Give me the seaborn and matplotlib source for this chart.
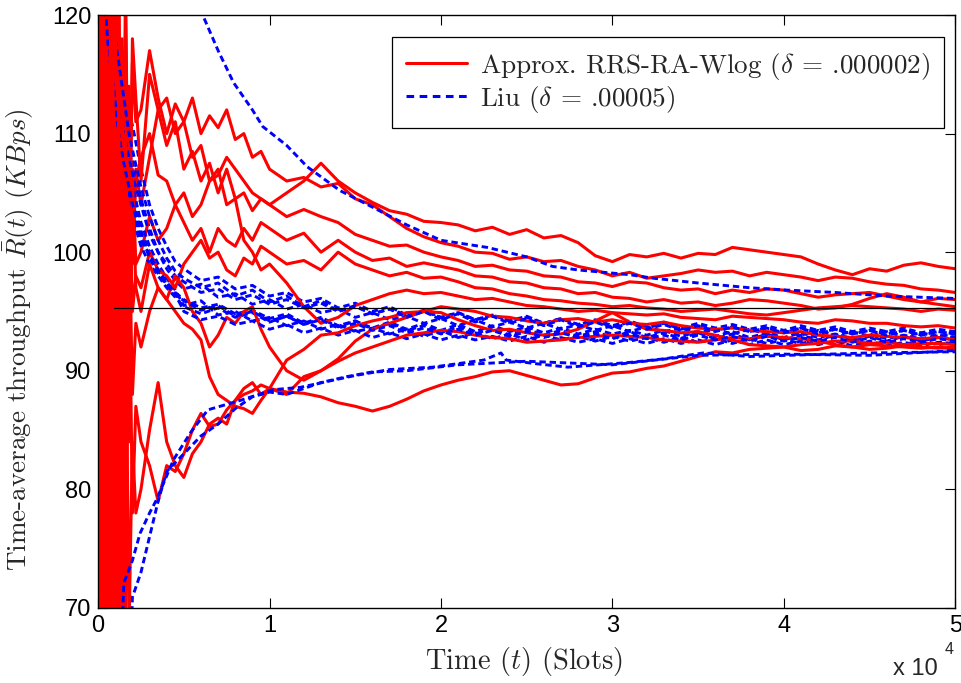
import numpy as np
import pandas as pd
import matplotlib
matplotlib.use("Agg")
import matplotlib.pyplot as plt
from matplotlib.lines import Line2D
import seaborn as sns

# ---------------- data (time in units of 1e4 slots) ----------------
XR = [0, .01, .02, .03, .04, .05, .06, .08, .10, .12, .14, .16, .18, .20, .22,
      .25, .30, .35, .40, .45, .50, .55, .60, .65, .70, .75, .80, .85, .90, .95, 1.0,
      1.1, 1.2, 1.3, 1.4, 1.5, 1.6, 1.7, 1.8, 1.9, 2.0,
      2.1, 2.2, 2.3, 2.4, 2.5, 2.6, 2.7, 2.8, 2.9, 3.0, 3.1, 3.2, 3.3, 3.4, 3.5,
      3.6, 3.7, 3.8, 3.9, 4.0, 4.1, 4.2, 4.3, 4.4, 4.5, 4.6, 4.7, 4.8, 4.9, 5.0]

R1 = [150, 60, 135, 70, 128, 62, 122, 78, 126, 84, 117, 92, 113, 99, 107,
      104, 108, 112, 109, 111, 107, 108.5, 106, 107.5, 105, 107, 104.5, 105, 103.5, 104.5, 104,
      105, 106, 107.5, 106, 105, 104.2, 103.5, 103.2, 102.6, 102.5,
      102.3, 101.8, 102.1, 101.5, 101.9, 101.2, 101.4, 100.8, 99.7, 99.2, 99.8, 99.6, 99.9, 99.5, 99.9,
      99.8, 100.4, 100.2, 100.0, 99.8, 99.6, 99.0, 98.5, 98.1, 98.6, 98.4, 98.9, 99.1, 98.8, 98.6]
R2 = [55, 145, 65, 138, 72, 125, 60, 118, 88, 121, 95, 119, 100, 116, 111,
      112, 117, 113, 110, 112.5, 111, 113, 110, 111.5, 110.5, 112, 109.5, 110, 108, 108.5, 107,
      106, 106.3, 105.5, 105.8, 104.5, 104, 103, 102, 101.3, 100.8,
      100.5, 100.0, 99.9, 99.4, 99.6, 99.2, 99.3, 98.8, 98.5, 98.0, 98.3, 97.8, 98.0, 98.2, 98.5,
      98.3, 98.4, 98.0, 98.3, 98.1, 97.9, 97.6, 97.9, 97.8, 97.5, 97.3, 97.2, 96.9, 96.8, 96.6]
R3 = [130, 58, 140, 66, 119, 73, 136, 70, 124, 83, 118, 90, 114, 100, 106,
      108, 110, 106.5, 106, 104, 105, 103, 104, 106, 106.5, 108, 107, 106, 105, 104.5, 104,
      103, 103.6, 103, 102.5, 101.5, 101, 100.5, 100.6, 100, 99.6,
      99.3, 98.8, 98.9, 98.5, 98.4, 98.0, 97.9, 97.5, 97.4, 97.1, 97.5, 97.4, 97.0, 96.8, 96.9,
      96.5, 96.8, 96.6, 96.9, 96.8, 96.5, 96.2, 96.4, 96.5, 96.6, 96.3, 96.0, 95.8, 96.1, 96.0]
R4 = [65, 150, 58, 127, 69, 140, 77, 121, 74, 117, 80, 111, 84, 107, 99,
      100, 103, 101, 102, 104, 102.5, 101, 102, 100, 102, 101, 100.5, 102, 101, 102.5, 102,
      101, 101.6, 100, 101, 100, 99.3, 99.5, 98.8, 99.1, 98.8,
      98.5, 98.0, 97.9, 97.5, 97.4, 97.0, 96.9, 96.5, 96.6, 96.2, 96.1, 95.8, 96.0, 95.7, 95.8,
      95.5, 95.7, 96.0, 95.9, 95.7, 95.5, 95.2, 95.3, 95.6, 96.1, 96.5, 96.2, 95.8, 95.6, 95.4]
R5 = [142, 52, 126, 75, 138, 67, 119, 71, 121, 79, 114, 83, 108, 95, 98,
      97, 100, 98.5, 98, 97, 99, 100, 101, 99.5, 100, 98.5, 98, 99.5, 99, 100.5, 100,
      99, 99.3, 98.5, 100, 99, 98.5, 98, 98.3, 97.8, 97.9,
      97.5, 97.0, 96.9, 96.5, 96.3, 96.0, 95.9, 95.7, 95.6, 95.4, 95.5, 95.3, 95.2, 95.0, 95.1,
      95.2, 95.0, 94.8, 94.7, 94.9, 95.1, 95.3, 95.4, 95.5, 95.4, 95.3, 95.2, 95.0, 95.2, 95.1]
R6 = [60, 132, 72, 146, 61, 120, 70, 137, 80, 126, 86, 124, 92, 118, 113,
      106, 115, 112, 113, 110, 111, 108, 109, 106, 107, 104, 104.5, 101, 100, 98.5, 99,
      97.4, 95.4, 94, 94.5, 95.5, 96, 96.5, 96.8, 96.5, 96.6,
      96.3, 96.0, 96.1, 95.8, 95.5, 95.4, 95.2, 95.0, 95.1, 94.9, 94.8, 94.7, 94.8, 94.5, 94.4,
      94.3, 94.6, 94.5, 94.4, 94.3, 94.1, 94.0, 94.3, 94.2, 94.0, 94.0, 93.8, 93.7, 93.8, 93.6]
R7 = [125, 63, 147, 57, 133, 79, 124, 69, 120, 64, 117, 70, 103, 88, 94,
      92, 95, 97, 96, 98, 97, 95, 94, 92, 93, 94.5, 94, 95, 95.4, 93.5, 92,
      90, 89.2, 90, 91, 92.5, 93.5, 94, 94.5, 95, 95.4,
      95.2, 95.0, 94.6, 94.5, 94.2, 94.0, 94.3, 94.4, 94.1, 94.3, 94.0, 93.9, 94.1, 93.8, 93.6,
      93.5, 93.6, 93.4, 93.3, 93.2, 93.3, 93.0, 92.9, 92.8, 93.0, 92.9, 92.8, 92.7, 92.8, 92.6]
R8 = [70, 137, 62, 121, 76, 143, 65, 126, 71, 117, 85, 110, 90, 106, 97,
      95, 99, 97, 96, 95, 94, 93.5, 92.6, 89.5, 88, 87.5, 87, 86.8, 86.4, 87.5, 88.5,
      90.9, 91.8, 93, 93.2, 93.8, 94.2, 94.5, 94.9, 95.0, 94.9,
      94.3, 93.8, 93.4, 93.5, 93.2, 93.0, 93.1, 93.5, 94.2, 94.9, 94.1, 93.5, 93.4, 93.2, 93.3,
      93.0, 92.6, 92.2, 92.1, 92.0, 92.2, 92.3, 92.5, 92.5, 92.3, 92.4, 92.2, 92.3, 92.3, 92.2]
R9 = [138, 66, 120, 52, 131, 71, 142, 60, 123, 68, 109, 74, 101, 78, 87,
      84, 82, 79, 82, 81.5, 83, 85, 86.4, 85.3, 85.5, 86.7, 87.5, 88, 88.3, 88.8, 88.5,
      88, 89.5, 90, 90.8, 91.5, 92, 92.5, 93, 93.2, 93.4,
      93.3, 93.0, 92.8, 92.7, 92.4, 92.5, 92.6, 92.8, 92.9, 93.0, 92.9, 92.8, 92.6, 92.5, 92.4,
      92.6, 92.8, 92.7, 92.9, 92.8, 92.7, 92.5, 92.2, 92.0, 92.2, 92.1, 92.0, 91.9, 92.0, 91.8]
R10 = [58, 129, 74, 134, 64, 117, 82, 140, 67, 112, 62, 98, 68, 84, 78,
       80, 85, 89, 84, 82, 81, 83, 84, 85.5, 86, 85.5, 87.5, 88.5, 89, 88, 88.5,
       88.2, 88.1, 87.8, 87.3, 87, 86.6, 87.0, 87.6, 88.3, 88.8,
       89.2, 89.5, 89.9, 90.0, 89.6, 89.2, 88.8, 88.9, 89.4, 89.8, 89.9, 90.2, 90.4, 90.8, 91.2,
       91.6, 91.5, 91.8, 91.9, 92.0, 91.7, 91.8, 92.1, 92.0, 91.8, 91.9, 92.1, 92.0, 91.9, 92.0]
RED_LINES = [R1, R2, R3, R4, R5, R6, R7, R8, R9, R10]

XB = [0, .03, .06, .09, .12, .15, .18, .21, .25, .3, .35, .4, .45,
      .5, .6, .7, .8, .9, 1.0, 1.1, 1.2, 1.3, 1.4, 1.5, 1.6, 1.7, 1.8, 1.9, 2.0,
      2.1, 2.2, 2.3, 2.4, 2.5, 2.6, 2.7, 2.8, 2.9, 3.0, 3.1, 3.2, 3.3, 3.4, 3.5,
      3.6, 3.7, 3.8, 3.9, 4.0, 4.1, 4.2, 4.3, 4.4, 4.5, 4.6, 4.7, 4.8, 4.9, 5.0]
B1 = [150, 136, 126, 121, 118, 115, 112, 110, 107, 104, 102, 100.5, 99.2,
      98.6, 97.6, 97.9, 96.9, 97.2, 96.3, 96.6, 95.8, 96.1, 95.3, 95.7, 95.0, 95.4, 94.7, 95.1, 94.5,
      94.9, 94.3, 94.7, 94.2, 94.6, 94.0, 94.4, 93.9, 94.3, 93.8, 94.2, 93.7, 94.1, 93.6, 94.0,
      93.6, 93.9, 93.5, 93.8, 93.4, 93.8, 93.4, 93.7, 93.3, 93.6, 93.3, 93.6, 93.2, 93.5, 93.3]
B2 = [142, 130, 122, 118, 114, 111, 109, 107, 104.5, 102, 100, 98.6, 97.6,
      96.9, 97.3, 96.2, 96.5, 95.6, 96.0, 95.2, 95.6, 94.9, 95.2, 94.5, 94.9, 94.3, 94.6, 94.0, 94.4,
      93.8, 94.3, 93.7, 94.1, 93.6, 94.0, 93.5, 93.9, 93.4, 93.8, 93.3, 93.7, 93.3, 93.6, 93.2,
      93.5, 93.1, 93.5, 93.1, 93.4, 93.0, 93.4, 93.0, 93.3, 92.9, 93.3, 92.9, 93.2, 92.9, 93.1]
B3 = [135, 124, 118, 115, 111, 108, 106, 104, 101.8, 100, 98.5, 97.3, 96.6,
      96.0, 95.3, 95.6, 94.8, 95.1, 94.4, 94.8, 94.0, 94.5, 93.8, 94.2, 93.5, 94.0, 93.4, 93.8, 93.2,
      93.7, 93.1, 93.6, 93.0, 93.5, 93.0, 93.4, 92.9, 93.3, 92.8, 93.3, 92.8, 93.2, 92.7, 93.2,
      92.7, 93.1, 92.6, 93.1, 92.6, 93.0, 92.6, 93.0, 92.5, 92.9, 92.5, 92.9, 92.5, 92.8, 92.6]
B4 = [145, 131, 121, 116, 113, 110, 107, 105, 102.5, 100.5, 99, 97.8, 96.8,
      95.5, 95.9, 94.7, 95.0, 94.2, 94.5, 93.8, 94.2, 93.5, 93.9, 93.3, 93.6, 93.1, 93.5, 92.9, 93.4,
      92.8, 93.2, 92.7, 93.1, 92.6, 93.0, 92.6, 92.9, 92.5, 92.9, 92.5, 92.8, 92.4, 92.8, 92.4,
      92.7, 92.3, 92.7, 92.3, 92.6, 92.3, 92.6, 92.2, 92.6, 92.2, 92.5, 92.2, 92.5, 92.2, 92.4]
B5 = [130, 122, 117, 113, 109, 106, 104, 102.5, 100.5, 99, 98, 97, 96.2,
      95.4, 94.8, 95.3, 94.5, 94.9, 94.1, 94.6, 93.9, 94.4, 93.7, 94.2, 93.6, 94.1, 93.5, 94.0, 93.4,
      93.9, 93.3, 93.8, 93.3, 93.7, 93.2, 93.6, 93.1, 93.5, 93.1, 93.4, 93.0, 93.4, 92.9, 93.3,
      92.9, 93.3, 92.8, 93.2, 92.8, 93.2, 92.8, 93.1, 92.7, 93.1, 92.7, 93.0, 92.7, 93.0, 92.8]
B6 = [138, 127, 120, 117, 113, 110, 108, 106, 104, 101.5, 100, 99, 98,
      97.5, 96.6, 96.9, 96.0, 96.4, 95.6, 96.0, 95.3, 95.7, 95.0, 95.4, 94.8, 95.2, 94.7, 95.0, 94.5,
      94.9, 94.3, 94.7, 94.2, 94.5, 94.0, 94.4, 93.9, 94.2, 93.7, 94.1, 93.6, 94.0, 93.5, 93.8,
      93.4, 93.7, 93.3, 93.6, 93.2, 93.6, 93.2, 93.5, 93.1, 93.4, 93.1, 93.4, 93.0, 93.3, 93.1]
B7 = [128, 120, 116, 114, 110, 107, 105, 103, 101, 99.8, 98.5, 97.5, 96.5,
      95.0, 94.3, 94.6, 93.9, 94.2, 93.5, 93.9, 93.2, 93.6, 93.0, 93.4, 92.8, 93.2, 92.7, 93.1, 92.6,
      93.0, 92.6, 92.9, 92.5, 92.9, 92.4, 92.8, 92.4, 92.7, 92.3, 92.7, 92.3, 92.7, 92.3, 92.6,
      92.2, 92.6, 92.2, 92.6, 92.2, 92.5, 92.2, 92.5, 92.1, 92.5, 92.1, 92.4, 92.1, 92.4, 92.3]
B8 = [147, 133, 124, 119, 116, 113, 110, 108, 105.5, 103, 101, 99.5, 98.4,
      97.8, 97.0, 97.4, 96.3, 96.8, 95.8, 96.3, 95.4, 95.9, 95.0, 95.5, 94.8, 95.2, 94.5, 95.0, 94.3,
      94.8, 94.1, 94.6, 94.0, 94.4, 93.8, 94.3, 93.7, 94.1, 93.6, 94.0, 93.5, 93.9, 93.4, 93.8,
      93.3, 93.7, 93.3, 93.6, 93.2, 93.6, 93.1, 93.5, 93.1, 93.4, 93.0, 93.4, 93.0, 93.3, 93.1]
B9 = [133, 123, 117, 114, 110, 107.5, 105.5, 103.5, 101.5, 99.5, 98.2, 97.2, 96.4,
      95.9, 95.1, 95.5, 94.6, 95.0, 94.2, 94.6, 93.9, 94.3, 93.6, 94.0, 93.4, 93.8, 93.2, 93.6, 93.1,
      93.5, 93.0, 93.4, 92.9, 93.3, 92.8, 93.2, 92.8, 93.1, 92.7, 93.1, 92.7, 93.0, 92.6, 93.0,
      92.6, 92.9, 92.5, 92.9, 92.5, 92.8, 92.5, 92.8, 92.4, 92.8, 92.4, 92.7, 92.4, 92.7, 92.5]
BAND_LINES = [B1, B2, B3, B4, B5, B6, B7, B8, B9]

XB_TOP = [0.05, 0.2, 0.4, 0.55, 0.61, 0.7, 0.79, 0.9, 0.96, 1.1, 1.22, 1.41, 1.6, 1.8, 2.0, 2.27, 2.5,
          2.65, 2.8, 3.1, 3.24, 3.5, 3.8, 4.02, 4.3, 4.6, 4.99]
B_TOP = [200, 150, 130, 123, 120, 117, 114.3, 112, 110.6, 109, 107.2, 105.2, 103.8, 102.3, 101, 100.4, 99.6,
         98.8, 98.5, 98.1, 97.8, 97.4, 97.0, 96.8, 96.6, 96.3, 96.1]

XB_LOW1 = [0.12, 0.15, 0.2, 0.245, 0.3, 0.34, 0.44, 0.54, 0.64, 0.83, 1.02, 1.18, 1.37, 1.5, 1.7, 1.95,
           2.25, 2.35, 2.38, 2.55, 2.74, 3.1, 3.3, 3.53, 3.8, 4.02, 4.5, 5.0]
B_LOW1 = [60, 72.1, 74, 76.3, 78, 79.1, 82.5, 84.8, 86.7, 87.5, 88.4, 88.6, 89.2, 89.6, 90.1, 90.3,
          90.9, 91.5, 90.9, 90.6, 90.3, 90.7, 91.0, 91.5, 91.2, 91.3, 91.5, 91.6]
XB_LOW2 = [0.18, 0.2, 0.25, 0.3, 0.35, 0.4, 0.5, 0.6, 0.7, 0.8, 0.9, 1.0, 1.1, 1.2, 1.3, 1.45, 1.6,
           1.8, 2.1, 2.5, 3.0, 3.5, 4.0, 4.5, 5.0]
B_LOW2 = [60, 70.9, 73, 76, 79, 81.5, 83, 84.5, 85.5, 86.8, 87.8, 88.2, 88.0, 88.5, 89.0, 89.5, 89.9,
          90.0, 90.5, 90.8, 90.5, 91.3, 91.4, 91.3, 91.7]

REF_LEVEL = 95.25
X_TICK_LABELS = ["0", "1", "2", "3", "4", "5"]
Y_TICKS = [70, 80, 90, 100, 110, 120]
LEGEND_LABELS = [r"Approx. RRS-RA-Wlog ($\delta$ = .000002)", r"Liu ($\delta$ = .00005)"]

# ---------------- plotting ----------------
sns.set_style("ticks")
plt.rcParams["mathtext.fontset"] = "cm"
plt.rcParams["axes.formatter.use_mathtext"] = True

fig = plt.figure(figsize=(9.62, 6.83), dpi=100)
ax = fig.add_axes([0.102, 0.110, 0.891, 0.868])

RED = "#ff0000"
BLUE = "#0000ff"
SCALE = 1e4

blue_sets = [(XB, b) for b in BAND_LINES] + [(XB_TOP, B_TOP), (XB_LOW1, B_LOW1), (XB_LOW2, B_LOW2)]

for i in range(max(len(RED_LINES), len(blue_sets))):
    if i < len(RED_LINES):
        df = pd.DataFrame({"t": np.array(XR) * SCALE, "r": RED_LINES[i]})
        sns.lineplot(data=df, x="t", y="r", ax=ax, color=RED, lw=2.2,
                     estimator=None, sort=False, legend=False)
    if i < len(blue_sets):
        xs, ys = blue_sets[i]
        df = pd.DataFrame({"t": np.array(xs) * SCALE, "r": ys})
        sns.lineplot(data=df, x="t", y="r", ax=ax, color=BLUE, lw=2.1,
                     linestyle=(0, (2.2, 1.3)), estimator=None, sort=False, legend=False)

ax.axhline(REF_LEVEL, xmin=0.018, xmax=1.0, color="black", lw=0.9, zorder=5)

ax.set_xlim(0, 5 * SCALE)
ax.set_ylim(70, 120)
ax.set_xticks([k * SCALE for k in range(6)])
ax.set_xticklabels(X_TICK_LABELS)
ax.set_yticks(Y_TICKS)
ax.set_yticklabels([str(v) for v in Y_TICKS])
ax.tick_params(direction="in", top=True, right=True, length=7, width=0.8,
               labelsize=17, pad=5, colors="black")
for lab in ax.get_xticklabels() + ax.get_yticklabels():
    lab.set_fontfamily("Liberation Sans")
for s in ax.spines.values():
    s.set_color("black")
    s.set_linewidth(1.0)

ax.set_xlabel(r"Time $(t)$ (Slots)", fontfamily="cmr10", fontsize=20.5)
ax.set_ylabel(r"Time-average throughput $\bar{R}(t)$ $(KBps)$", fontfamily="cmr10", fontsize=19.5)
ax.xaxis.set_label_coords(0.497, -0.062)
ax.yaxis.set_label_coords(-0.072, 0.452)

fig.text(0.928, 0.012, "x 10", fontfamily="Liberation Sans", fontsize=17)
fig.text(0.982, 0.043, "4", fontfamily="Liberation Sans", fontsize=11.5)

handles = [Line2D([], [], color=RED, lw=2.2),
           Line2D([], [], color=BLUE, lw=2.2, linestyle=(0, (2.5, 1.8)))]
leg = ax.legend(handles, LEGEND_LABELS, loc="upper right", bbox_to_anchor=(0.987, 0.963),
                prop={"family": "cmr10", "size": 19.5}, frameon=True, fancybox=False,
                edgecolor="black", framealpha=1, handlelength=2.25, handletextpad=0.5,
                borderpad=0.5, labelspacing=0.08, borderaxespad=0.0)
leg.get_frame().set_linewidth(0.9)
leg.set_zorder(10)

fig.savefig("out.png", dpi=100)
